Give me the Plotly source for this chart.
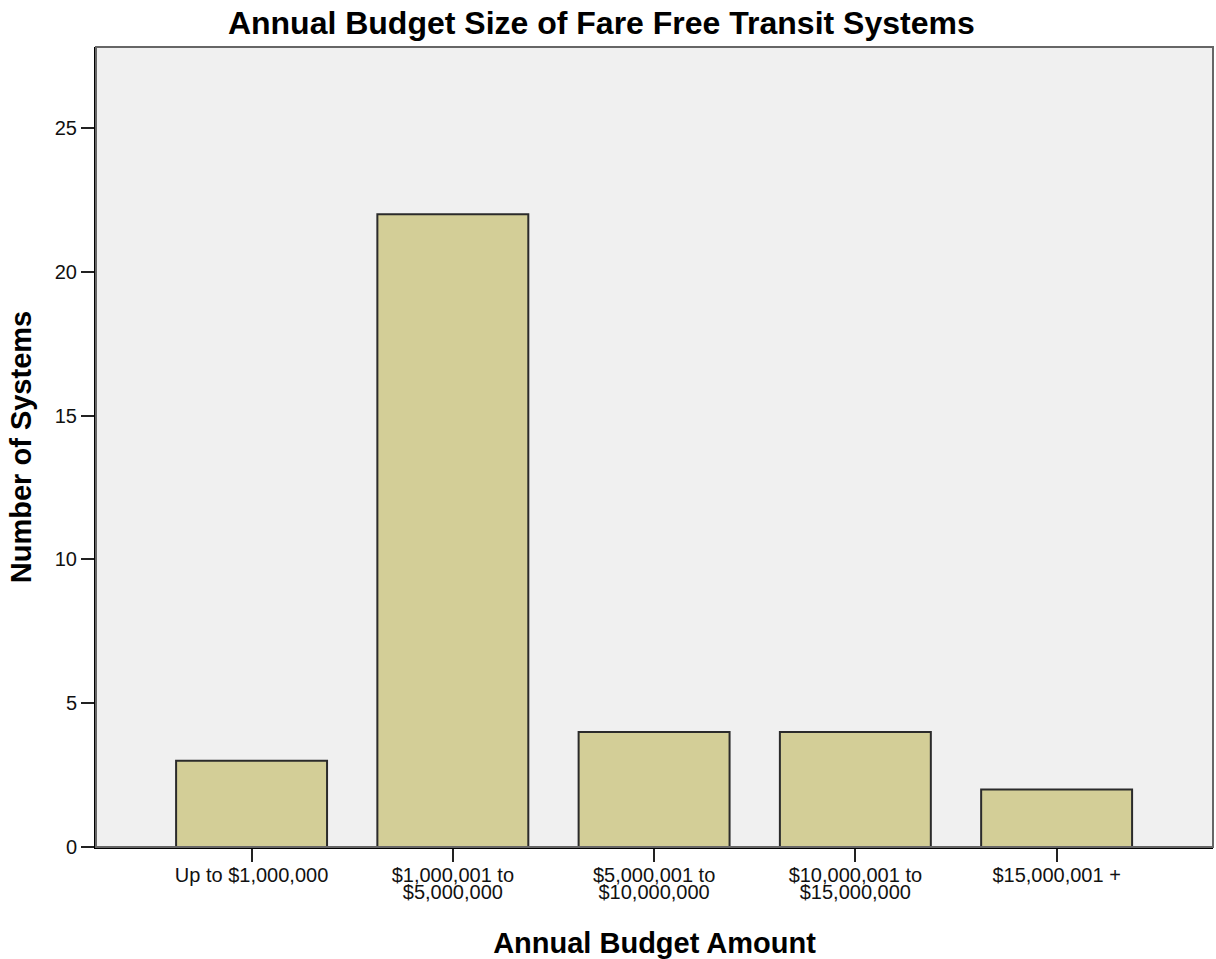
import plotly.graph_objects as go

categories = ["Up to $1,000,000", "$1,000,001 to\n$5,000,000", "$5,000,001 to\n$10,000,000",
              "$10,000,001 to\n$15,000,000", "$15,000,001 +"]
counts = [3, 22, 4, 4, 2]
y_ticks = [0, 5, 10, 15, 20, 25]

FONT = "Liberation Sans, Arial, sans-serif"


def tick_label(text, px=20):
    return "<br>".join(f"<span style='font-size:{px}px'>{line}</span>" for line in text.split("\n"))


fig = go.Figure(go.Bar(
    x=categories, y=counts, width=0.75,
    marker=dict(color="#D3CE97", line=dict(color="#2b2b2b", width=2)),
))

fig.update_layout(
    width=1216, height=959,
    margin=dict(l=96, r=3, t=47, b=112),
    paper_bgcolor="white", plot_bgcolor="#F0F0F0",
    showlegend=False,
    font=dict(family=FONT, color="#111"),
    title=dict(text="<b>Annual Budget Size of Fare Free Transit Systems</b>",
               x=0.4945, xanchor="center", y=0.9765, yanchor="middle",
               font=dict(size=32, family=FONT, color="#000")),
    shapes=[dict(type="rect", xref="paper", yref="paper", x0=0, x1=1, y0=0, y1=1,
                 line=dict(color="#666", width=2), layer="above")],
)
fig.update_xaxes(
    range=[-0.773, 4.777], showgrid=False, zeroline=False,
    showline=True, linecolor="#000", linewidth=2,
    tickvals=categories, ticktext=[tick_label(c) for c in categories],
    ticks="outside", ticklen=13, tickwidth=2, tickcolor="#222",
    ticklabelstandoff=4,
    tickfont=dict(size=13, family=FONT, color="#111"),
    title=dict(text="<b>Annual Budget Amount</b>", font=dict(size=29, family=FONT, color="#000"), standoff=31),
)
fig.update_yaxes(
    range=[0, 27.82], tickvals=y_ticks, showgrid=False, zeroline=False,
    showline=True, linecolor="#000", linewidth=2,
    ticks="outside", ticklen=13, tickwidth=2, tickcolor="#222",
    tickfont=dict(size=20, family=FONT, color="#111"),
    title=dict(text="<b>Number of Systems</b>", font=dict(size=29, family=FONT, color="#000"), standoff=15),
)

fig.write_html("out.html", config={"displayModeBar": False},
               post_script="document.body.style.margin='0px';")
